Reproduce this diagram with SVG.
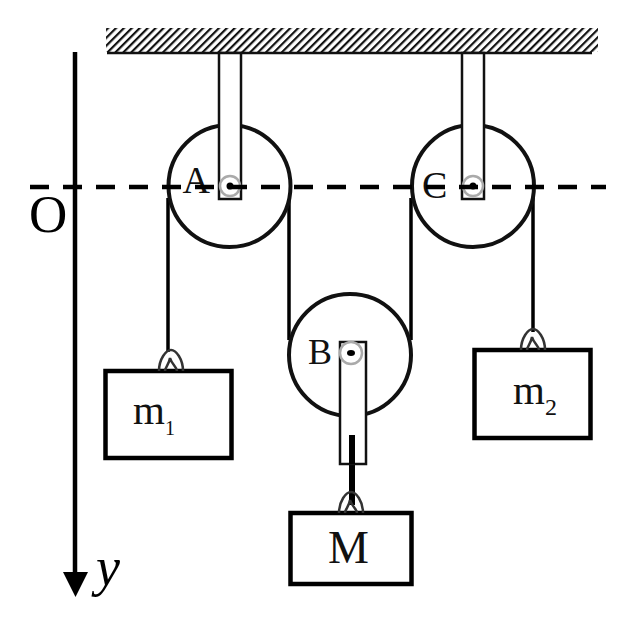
<svg xmlns="http://www.w3.org/2000/svg" width="643" height="627" viewBox="0 0 643 627">
<style>
.ln{fill:none;stroke:#000;stroke-width:3.500}
.wheel{fill:#fff;stroke:#111;stroke-width:4}
.brk{fill:#fff;stroke:#111;stroke-width:2.500}
.axle{fill:#fff;stroke:#aaa;stroke-width:2.500}
.box{fill:#fff;stroke:#000;stroke-width:4.500}
.hook{fill:none;stroke:#333;stroke-width:2.500}
.lbl{font-family:"Liberation Serif",serif;fill:#111}
</style>
<defs>
<pattern id="hatch" width="5.600" height="5.600" patternUnits="userSpaceOnUse" patternTransform="rotate(45)">
<rect width="5.600" height="5.600" fill="#fff"/>
<rect width="2.200" height="5.600" fill="#111"/>
</pattern>
<g id="hk"><path class="hook" d="M-12 0C-12 -12 -5 -21 0 -21C5 -21 12 -12 12 0"/><path class="hook" d="M-6 0C-6 -4 -2 -6 -1 -13C1 -6 6 -4 6 0"/></g>
</defs>
<g id="ceiling">
<rect x="106" y="28" width="492" height="24" fill="url(#hatch)"/>
<line x1="107" y1="53" x2="592" y2="53" stroke="#111" stroke-width="2.500"/>
</g>
<g id="connectors">
<line class="ln" x1="168" y1="198" x2="168" y2="352"/>
<line class="ln" x1="289" y1="198" x2="289" y2="340"/>
<line class="ln" x1="411" y1="198" x2="411" y2="340"/>
<line class="ln" x1="533" y1="198" x2="533" y2="332"/>
<line x1="352" y1="464" x2="352" y2="505" stroke="#000" stroke-width="6"/>
</g>
<g id="pulley-A">
<circle class="wheel" cx="229.500" cy="186" r="61"/>
<rect class="brk" x="219" y="53" width="22" height="146"/>
<circle class="axle" cx="230" cy="186" r="10"/>
<circle cx="230" cy="186" r="3.500" fill="#000"/>
<text class="lbl" x="182.500" y="193" font-size="38">A</text>
</g>
<g id="pulley-C">
<circle class="wheel" cx="473" cy="186" r="61"/>
<rect class="brk" x="462" y="53" width="22" height="146"/>
<circle class="axle" cx="473" cy="186" r="10"/>
<circle cx="473" cy="186" r="3.500" fill="#000"/>
<text class="lbl" x="422" y="198" font-size="38">C</text>
</g>
<g id="axis-O">
<line x1="30" y1="187" x2="606" y2="187" stroke="#000" stroke-width="4.500" stroke-dasharray="19 14"/>
<line x1="75" y1="52" x2="75" y2="575" stroke="#000" stroke-width="4.500"/>
<polygon points="63,572 88,572 75.500,597" fill="#000"/>
<text x="29" y="232" font-family="'Liberation Serif',serif" font-size="53" fill="#000">O</text>
<text x="96" y="585" font-family="'Liberation Serif',serif" font-style="italic" font-size="54" fill="#000">y</text>
</g>
<g id="pulley-B">
<circle class="wheel" cx="350" cy="355" r="61"/>
<rect class="brk" x="340" y="342" width="26" height="122"/>
<circle class="axle" cx="351" cy="353" r="11"/>
<ellipse cx="351" cy="353" rx="4" ry="3" fill="#000"/>
<text class="lbl" x="308" y="364" font-size="36">B</text>
<line x1="352" y1="435" x2="352" y2="464" stroke="#000" stroke-width="6"/>
</g>
<g id="mass-m1">
<rect class="box" x="105.500" y="371" width="126" height="87"/>
<use href="#hk" x="171" y="371"/>
<text class="lbl" x="133" y="424" font-size="41">m<tspan font-size="20" dy="11">1</tspan></text>
</g>
<g id="mass-m2">
<rect class="box" x="474.500" y="350" width="116" height="88"/>
<use href="#hk" x="533" y="350"/>
<text class="lbl" x="513" y="404" font-size="41">m<tspan font-size="24" dy="11">2</tspan></text>
</g>
<g id="mass-M">
<rect class="box" x="290.500" y="513" width="121" height="71"/>
<use href="#hk" x="351" y="513"/>
<text class="lbl" x="328" y="563" font-size="46">M</text>
</g>
</svg>
